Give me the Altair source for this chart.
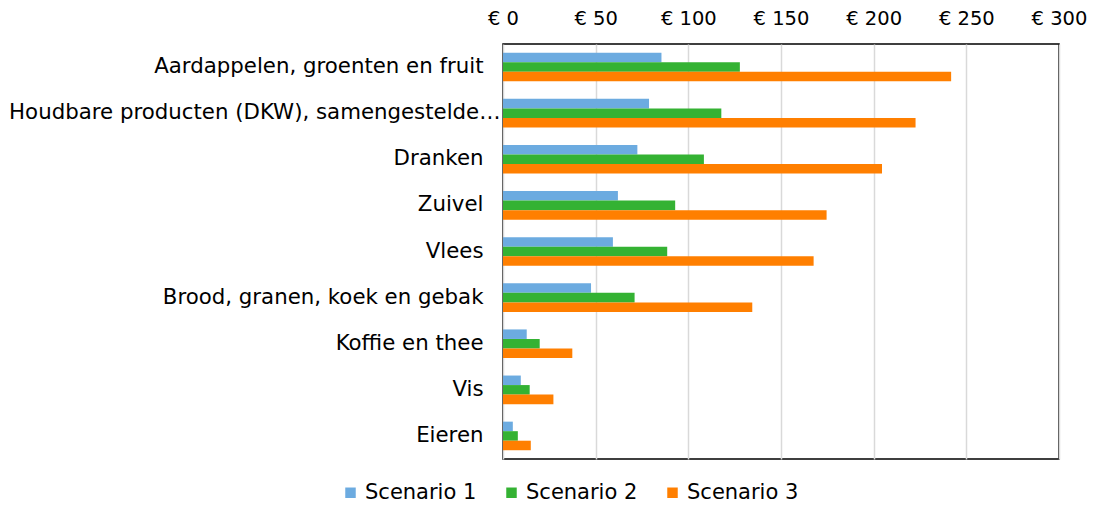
import altair as alt
import pandas as pd

categories = [
    "Aardappelen, groenten en fruit",
    "Houdbare producten (DKW), samengestelde…",
    "Dranken",
    "Zuivel",
    "Vlees",
    "Brood, granen, koek en gebak",
    "Koffie en thee",
    "Vis",
    "Eieren",
]
scenario1 = [85.5, 78.8, 72.5, 62, 59.3, 47.5, 12.8, 9.6, 5.3]
scenario2 = [127.8, 117.8, 108.4, 92.9, 88.6, 71, 19.8, 14.4, 8]
scenario3 = [241.8, 222.6, 204.5, 174.6, 167.6, 134.5, 37.4, 27.2, 15]
series = ["Scenario 1", "Scenario 2", "Scenario 3"]
colors = ["#6CABE0", "#34B233", "#FF7F00"]
ticks = [0, 50, 100, 150, 200, 250, 300]

rows = []
for i, c in enumerate(categories):
    for s, vals in zip(series, [scenario1, scenario2, scenario3]):
        rows.append({"cat": c, "series": s, "value": vals[i]})
df = pd.DataFrame(rows)

font = "DejaVu Sans"
long_label = categories[1]

chart = alt.Chart(df).mark_bar().encode(
    y=alt.Y(
        "cat:N",
        sort=categories,
        scale=alt.Scale(paddingInner=0.38, paddingOuter=0.19),
        axis=alt.Axis(
            title=None, ticks=False, domain=False, labelFontSize=21.3,
            labelPadding={"condition": {"test": f"datum.value === '{long_label}'", "value": 3}, "value": 20},
            labelColor="black", labelLimit=700, labelFont=font,
        ),
    ),
    yOffset=alt.YOffset("series:N", sort=series,
                        scale=alt.Scale(paddingInner=0, paddingOuter=0)),
    x=alt.X(
        "value:Q",
        scale=alt.Scale(domain=[0, 300], nice=False),
        axis=alt.Axis(
            orient="top", values=ticks, labelExpr="'€ ' + datum.value",
            title=None, ticks=False, domain=False, labelFontSize=19.5,
            labelColor="black", labelFont=font, labelPadding=16,
            labelFlush=False, labelOverlap=False,
            grid=True, gridColor="#D9D9D9", gridWidth=1.5,
        ),
    ),
    color=alt.Color(
        "series:N",
        scale=alt.Scale(domain=series, range=colors),
        legend=alt.Legend(
            orient="none", legendX=-163, legendY=438, direction="horizontal",
            title=None, symbolType="square", symbolSize=110, padding=0,
            labelFontSize=21, labelFont=font, labelColor="black",
            labelOffset=4, columnPadding=24, symbolStrokeWidth=0,
        ),
    ),
).properties(
    width=556, height=415,
    padding={"left": 0, "top": 0, "right": 0, "bottom": 0},
).configure_view(
    stroke="black", strokeWidth=1.5
)

chart.save("out.html", embed_options={"renderer": "svg", "actions": False})
